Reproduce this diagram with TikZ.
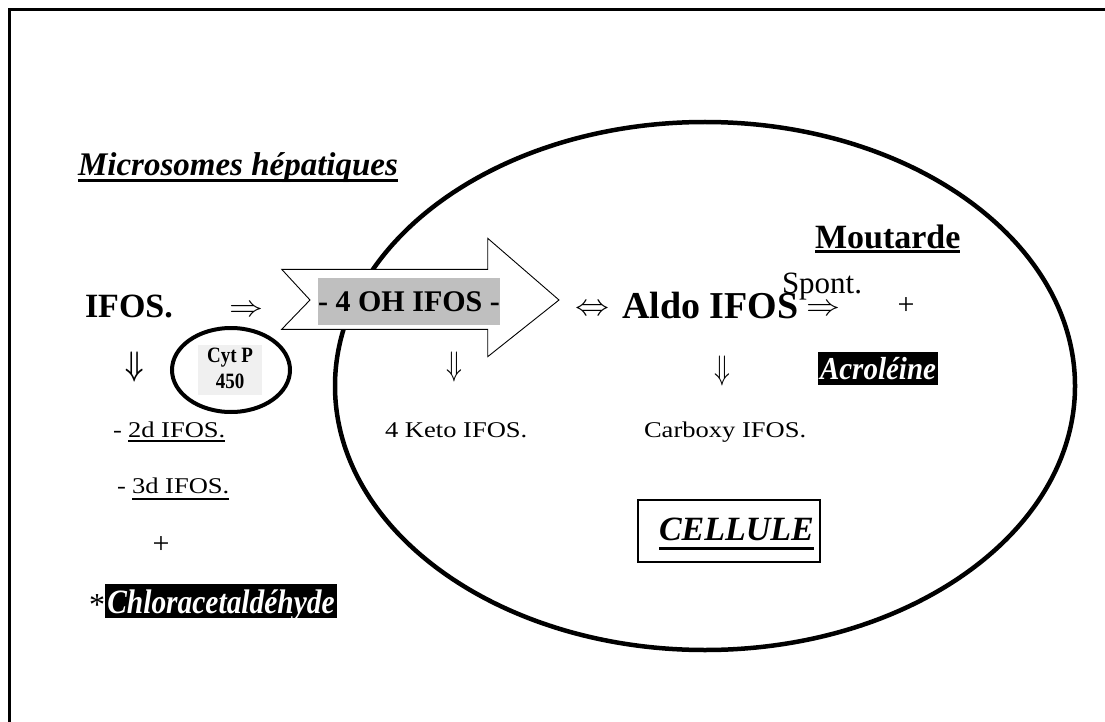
\documentclass[tikz,border=0pt]{standalone}
\usepackage{fontspec}
\setmainfont{Liberation Serif}
\usepackage{graphicx}
\usetikzlibrary{shapes.geometric}
\newcommand\fs[1]{\fontsize{#1}{#1}\selectfont}
\begin{document}
\begin{tikzpicture}[x=1pt,y=-1pt,
  every node/.style={inner sep=0pt,outer sep=0pt},
  txt/.style={anchor=base west},
  blackbox/.style={fill=black,minimum width=#1,minimum height=34pt},
  bigring/.style={ellipse,draw,line width=4.5pt},
  uline/.style={line width=#1},
]
\useasboundingbox (0,0) rectangle (1105,722);
% frame (top and left sides visible)
\draw[line width=3pt] (9,722) -- (9,10) -- (1105,10);
% cell ellipse
\node[bigring,minimum width=740pt,minimum height=528pt] (cell) at (705,386) {};
% big hollow arrow
\draw[line width=0.9pt,fill=white] (281.7,269.3) -- (487.7,269.3) -- (487.7,238.3) -- (559,300)
  -- (487.7,356.7) -- (487.7,329.3) -- (281.7,329.3) -- (310,300) -- cycle;
\node[fill=black!25,minimum width=180pt,minimum height=47pt] (oh) at (409,301.5)
  {\fs{30}\bfseries - 4 OH IFOS -};
% title
\node[txt] (micro) at (78,176) {\fs{33}\bfseries\itshape Microsomes hépatiques};
\draw[uline=3pt] ([yshift=-5pt]micro.base west) -- ([yshift=-5pt]micro.base east);
% IFOS
\node[txt] (ifos) at (85,317) {\fs{34}\bfseries IFOS.};
\node (r1) at (246,311) {\scalebox{3.4}[3]{$\Rightarrow$}};
\node (d1) at (135,367) {\scalebox{2.6}[3.4]{\boldmath$\Downarrow$}};
% Cyt P450
\node[fill=black!6,minimum width=64pt,minimum height=50pt] (cytbox) at (230,370) {};
\node[anchor=base] (cyt1) at (230,362) {\scalebox{1}[1.15]{\fs{19}\bfseries Cyt P}};
\node[anchor=base] (cyt2) at (230,388) {\scalebox{1}[1.15]{\fs{19}\bfseries 450}};
\node[ellipse,draw,line width=4pt,minimum width=118pt,minimum height=84pt] (cyt) at (231,370) {};
% left products
\node[txt] (d2a) at (113,437) {\scalebox{1.18}[1]{\fs{22.5}-}};
\node[txt] (d2) at (128,437) {\scalebox{1.18}[1]{\fs{22.5}2d IFOS.}};
\draw[uline=1.5pt] ([yshift=-4pt]d2.base west) -- ([yshift=-4pt]d2.base east);
\node[txt] (d3a) at (117,493) {\scalebox{1.18}[1]{\fs{22.5}-}};
\node[txt] (d3) at (132,493) {\scalebox{1.18}[1]{\fs{22.5}3d IFOS.}};
\draw[uline=2pt] ([yshift=-5.5pt]d3.base west) -- ([yshift=-5.5pt]d3.base east);
\node (plus1) at (161,545) {\fs{30}+};
\node[blackbox=232pt,anchor=north west] (chlbox) at (105,584) {};
\node[anchor=base,text=white] (chl) at (221,613) {\scalebox{0.95}[1.1]{\fs{31}\bfseries\itshape Chloracetaldéhyde}};
\node[anchor=base east] (star) at (105,615) {\fs{32}*};
% 4 keto
\node (d4) at (454,367) {\scalebox{2.6}[3.4]{$\Downarrow$}};
\node[txt] (keto) at (385,437) {\scalebox{1.18}[1]{\fs{22.5}4 Keto IFOS.}};
% aldo
\node (lr) at (592,310) {\scalebox{3.4}[3]{$\Leftrightarrow$}};
\node[txt] (aldo) at (622,318) {\fs{38}\bfseries Aldo IFOS};
\node[txt] (spont) at (782,293) {\fs{31}Spont.};
\node (r2) at (823,310) {\scalebox{3.4}[3]{$\Rightarrow$}};
\node (plus2) at (906,306) {\fs{30}+};
\node[txt] (mout) at (815,248) {\fs{34}\bfseries Moutarde};
\draw[uline=3pt] ([yshift=-3.5pt]mout.base west) -- ([yshift=-3.5pt]mout.base east);
\node[fill=black,minimum width=120pt,minimum height=33pt] (acro) at (878,368.5)
  {\color{white}\scalebox{1}[1.1]{\fs{29}\bfseries\itshape Acroléine}};
\node (d5) at (722,371) {\scalebox{2.6}[3.4]{$\Downarrow$}};
\node[txt] (carb) at (644,437) {\scalebox{1.18}[1]{\fs{22.5}Carboxy IFOS.}};
% CELLULE
\node[draw,line width=1.3pt,minimum width=182pt,minimum height=62pt] (cellbox) at (729,531) {};
\node[txt] (cellule) at (659,540) {\fs{34}\bfseries\itshape CELLULE};
\draw[uline=3pt] ([yshift=-8.5pt]cellule.base west) -- ([yshift=-8.5pt]cellule.base east);
\end{tikzpicture}
\end{document}
